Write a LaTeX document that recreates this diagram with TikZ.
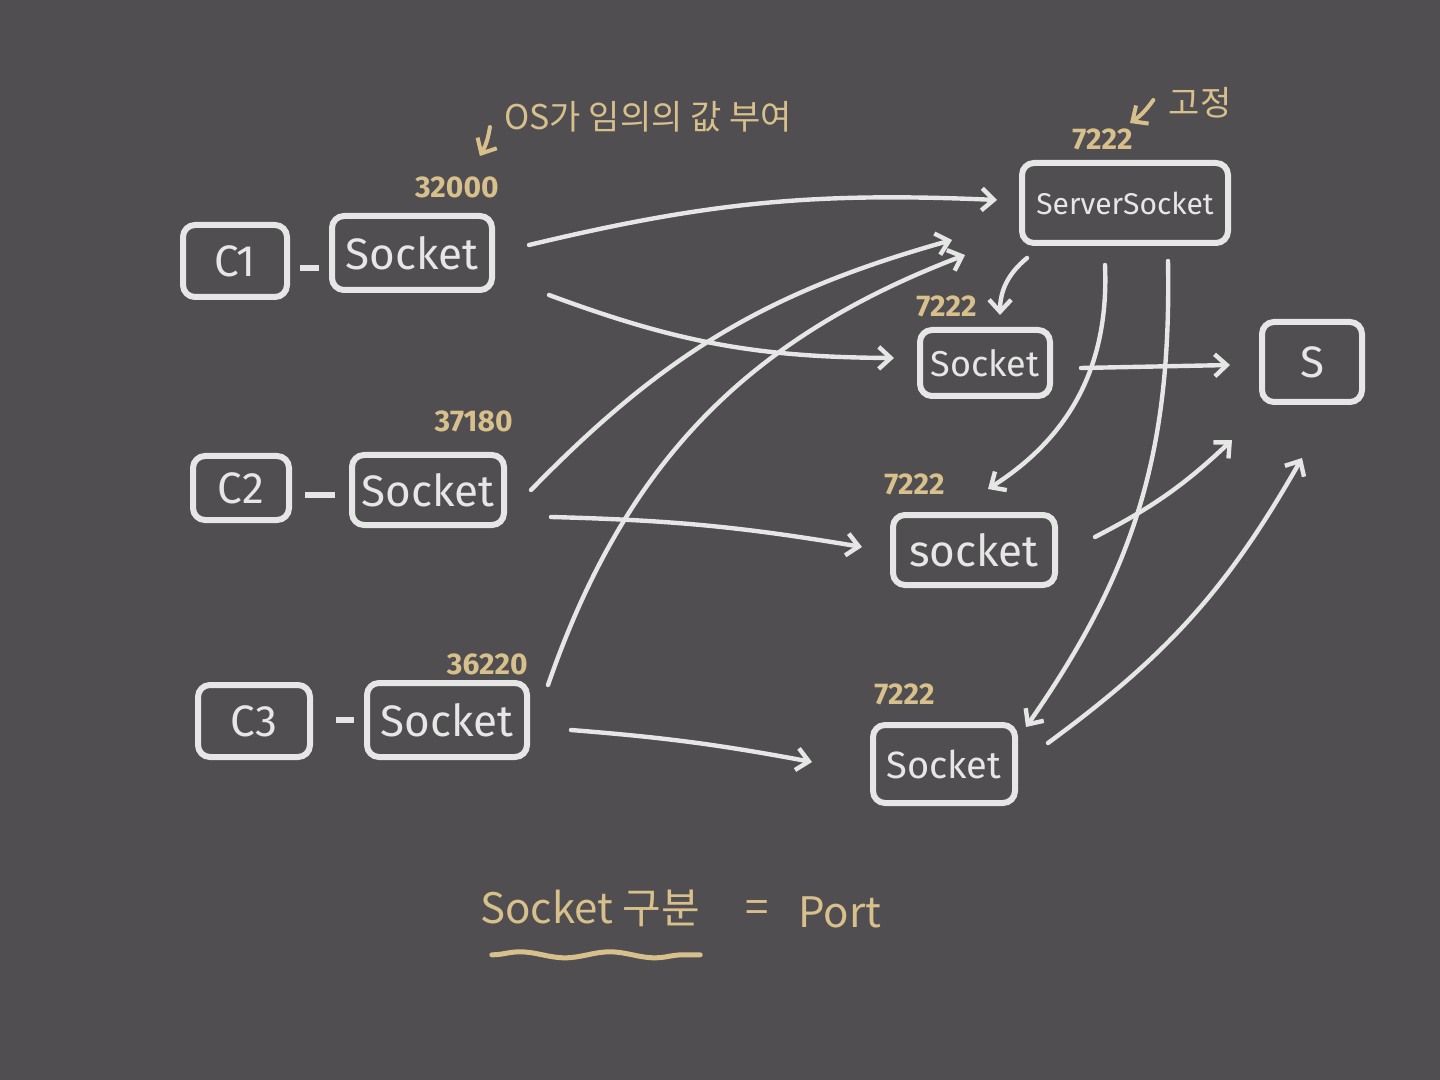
\documentclass[tikz,border=0pt]{standalone}
\usepackage{fontspec}
\setmainfont{Fira Sans}
\newfontfamily\kr{Noto Sans CJK KR}
\usetikzlibrary{positioning,arrows.meta,decorations.pathmorphing}
\definecolor{board}{HTML}{504E50}
\definecolor{chalk}{HTML}{E6E6E6}
\definecolor{gold}{HTML}{D8C08C}

\begin{document}
\begin{tikzpicture}[
    x=0.5pt, y=-0.5pt,
    every node/.style={font=\fontsize{22}{26}\selectfont, text=chalk},
    box/.style={draw=chalk, line width=3pt, rounded corners=6pt, inner sep=2pt},
    cli/.style={box, minimum width=52pt, minimum height=36pt},
    sock/.style={box, minimum width=80pt, minimum height=37pt},
    port/.style={text=gold, inner sep=1pt, font=\fontsize{15}{17}\selectfont\bfseries},
    note/.style={text=gold, inner sep=1pt, font=\kr\fontsize{17}{20}\selectfont},
    arr/.style={-{Straight Barb[length=6pt,width=11pt]}, draw=chalk, line width=2.2pt, line cap=round},
    garr/.style={arr, draw=gold, line width=2pt}
  ]
    \fill[board] (0,0) rectangle (1440,1080);

    \node[cli] (c1) at (235,261) {C1};
    \node[sock] (s1) at (412,253) {Socket};
    \node[cli, minimum width=48pt, minimum height=32pt] (c2) at (241,488) {C2};
    \node[sock, minimum width=76pt, minimum height=35pt] (s2) at (428,490) {Socket};
    \node[cli, minimum width=56pt] (c3) at (254,721) {C3};
    \node[sock] (s3) at (447,720) {Socket};

    \node[box, minimum width=103pt, minimum height=40pt, font=\fontsize{15}{18}\selectfont] (srv) at (1125,203) {ServerSocket};
    \node[sock, minimum width=65pt, minimum height=33pt, font=\fontsize{18}{22}\selectfont] (sa) at (985,363) {Socket};
    \node[sock, minimum width=81pt, minimum height=35pt] (sb) at (974,550) {socket};
    \node[sock, minimum width=71pt, minimum height=39pt, font=\fontsize{19}{23}\selectfont] (sc) at (944,764) {Socket};
    \node[box, minimum width=50pt, minimum height=40pt] (srvS) at (1312,362) {S};

    \node[port, above left=6.5pt and -3pt of s1.north east] (p1) {32000};
    \node[port, above left=9pt and -4pt of s2.north east] (p2) {37180};
    \node[port, above left=1.5pt and 0pt of s3.north east] (p3) {36220};
    \node[port, above left=4pt and -5pt of srv.north] (psrv) {7222};
    \node[port, above right=4pt and -1.5pt of sa.north west] (pa) {7222};
    \node[port, above right=7.5pt and -4pt of sb.north west] (pb) {7222};
    \node[port, above right=7.5pt and 1pt of sc.north west] (pc) {7222};

    \node[note] (os) at (648,117) {OS가 임의의 값 부여};
    \node[note] (fix) at (1200,103) {고정};

    \node[note, font=\kr\fontsize{21}{24}\selectfont] (split) at (590,908) {Socket 구분};
    \node[note, font=\kr\fontsize{21}{24}\selectfont] (eq) at (757,912) {=};
    \node[note, font=\kr\fontsize{21}{24}\selectfont] (portw) at (840,912) {Port};
    \draw[gold, line width=2.5pt, line cap=round, decorate,
      decoration={snake, amplitude=1.5pt, segment length=45pt}]
      ([shift={(14,26)}]split.south west) -- ([shift={(-2,26)}]split.south east);

    \draw[chalk, line width=3pt] ([shift={(10,7)}]c1.east) -- ([shift={(-10,15)}]s1.west);
    \draw[chalk, line width=3pt] ([shift={(13,7)}]c2.east) -- ([shift={(-14,5)}]s2.west);
    \draw[chalk, line width=3pt] ([shift={(23,-1)}]c3.east) -- ([shift={(-10,0)}]s3.west);

    \draw[arr] ([shift={(34,-8)}]s1.east) to[bend left=8] ([shift={(-22,-3)}]srv.west);
    \draw[arr] ([shift={(54,42)}]s1.east) to[bend right=10] ([shift={(-23,-5)}]sa.west);
    \draw[arr] ([shift={(24,0)}]s2.east) to[bend left=15] ([shift={(-67,37)}]srv.west);
    \draw[arr] ([shift={(44,27)}]s2.east) to[bend left=4] ([shift={(-28,-3)}]sb.west);
    \draw[arr] ([shift={(18,5)}]s3.north east) to[bend left=25] ([shift={(-54,52)}]srv.west);
    \draw[arr] ([shift={(41,10)}]s3.east) to[bend left=3] ([shift={(-58,-2)}]sc.west);

    \draw[arr] ([shift={(8,12)}]srv.south west) to[bend right=25] ([shift={(15,-12)}]sa.north);
    \draw[arr] ([shift={(-20,19)}]srv.south) to[bend left=30] ([shift={(14,-23)}]sb.north);
    \draw[arr] ([shift={(43,15)}]srv.south) to[bend left=18] ([shift={(8,5)}]sc.north east);

    \draw[arr] ([shift={(28,5)}]sa.east) -- ([shift={(-29,3)}]srvS.west);
    \draw[arr] ([shift={(37,-13)}]sb.east) to[bend right=8] ([shift={(-27,35)}]srvS.south west);
    \draw[arr] ([shift={(30,-21)}]sc.east) to[bend right=12] ([shift={(-10,53)}]srvS.south);

    \draw[garr] ([shift={(-12,10)}]os.west) to[bend left=10] ([shift={(23,-18)}]p1.north);
    \draw[garr] ([shift={(-13,-3)}]fix.west) to[bend left=10] ([shift={(-5,-3)}]psrv.north east);
  \end{tikzpicture}
\end{document}
